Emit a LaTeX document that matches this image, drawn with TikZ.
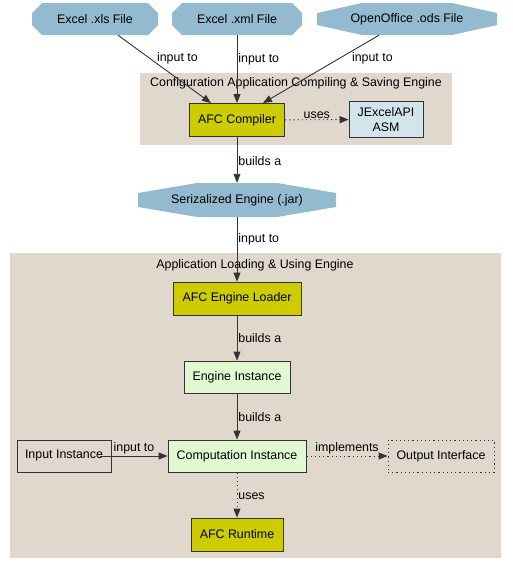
\documentclass[tikz,border=0pt]{standalone}
\usepackage{fontspec}
\setmainfont{Liberation Sans}
\usetikzlibrary{arrows.meta}

\definecolor{filecol}{HTML}{93BACF}
\definecolor{clustercol}{HTML}{E0D8CC}
\definecolor{afccol}{HTML}{CCCC00}
\definecolor{libcol}{HTML}{D3E5EC}
\definecolor{instcol}{HTML}{E0F9D0}
\definecolor{linecol}{HTML}{333333}

\begin{document}
\begin{tikzpicture}[x=1pt,y=-1pt,
	font=\fontsize{12.4}{15}\selectfont,
	box/.style={draw=linecol, line width=0.9pt, minimum height=33pt, inner sep=0pt, align=center},
	afc/.style={box, fill=afccol},
	inst/.style={box, fill=instcol},
	datafile/.style={minimum height=32pt, inner sep=0pt, path picture={\fill[filecol]
		([xshift=#1]path picture bounding box.north west) -- ([xshift=-#1]path picture bounding box.north east)
		-- ([yshift=-10pt]path picture bounding box.north east) -- ([yshift=10pt]path picture bounding box.south east)
		-- ([xshift=-#1]path picture bounding box.south east) -- ([xshift=#1]path picture bounding box.south west)
		-- ([yshift=10pt]path picture bounding box.south west) -- ([yshift=-10pt]path picture bounding box.north west) -- cycle;}},
	edge/.style={draw=linecol, line width=0.9pt, -{Triangle[length=9pt,width=7pt]}},
	usesedge/.style={edge, dash pattern=on 1.2pt off 3pt},
	lbl/.style={inner sep=1pt}]
	\useasboundingbox (0,0) rectangle (512,576);

	% clusters
	\fill[clustercol] (140,73) rectangle (452,145);
	\node (compcluster) at (296,83) {Configuration Application Compiling \& Saving Engine};
	\fill[clustercol] (10,253) rectangle (501,558);
	\node (loadcluster) at (255,265) {Application Loading \& Using Engine};

	% input files
	\node[datafile=10pt, minimum width=126pt] (xls) at (95,19) {Excel .xls File};
	\node[datafile=10pt, minimum width=130pt] (xml) at (237,19) {Excel .xml File};
	\node[datafile=45pt, minimum width=180pt] (ods) at (407,19) {OpenOffice .ods File};

	% compiling
	\node[afc, minimum width=95pt] (compiler) at (237,120) {AFC Compiler};
	\node[box, fill=libcol, minimum width=74pt, minimum height=36pt] (jxl) at (386,119.5) {JExcelAPI\\ASM};
	\node[datafile=59pt, minimum width=198pt, minimum height=34pt] (jar) at (237,200) {Serizalized Engine (.jar)};

	% loading and using
	\node[afc, minimum width=128pt] (loader) at (237,298.5) {AFC Engine Loader};
	\node[inst, minimum width=106pt, minimum height=32pt] (engine) at (237,377) {Engine Instance};
	\node[inst, minimum width=138pt, minimum height=32pt] (comp) at (237,456) {Computation Instance};
	\node[box, minimum width=94pt, minimum height=32pt] (input) at (64,456) {Input Instance};
	\node[box, minimum width=106pt, minimum height=32pt, dash pattern=on 1.2pt off 3pt] (output) at (441,456) {Output Interface};
	\node[afc, minimum width=92pt] (runtime) at (237,534.5) {AFC Runtime};

	% edges
	\draw[edge] ([xshift=23pt]xls.south) -- ([xshift=-26pt]compiler.north)
		node[lbl, pos=0.34, anchor=west, xshift=6pt] {input to};
	\draw[edge] (xml) -- (compiler)
		node[lbl, pos=0.35, anchor=west] {input to};
	\draw[edge] ([xshift=-28pt]ods.south) -- ([xshift=26pt]compiler.north)
		node[lbl, pos=0.34, anchor=west, xshift=11pt] {input to};
	\draw[usesedge] (compiler) -- (jxl)
		node[lbl, midway, above] {uses};
	\draw[edge] (compiler) -- (jar)
		node[lbl, pos=0.53, anchor=west] {builds a};
	\draw[edge] (jar) -- (loader)
		node[lbl, pos=0.35, anchor=west] {input to};
	\draw[edge] (loader) -- (engine)
		node[lbl, pos=0.5, anchor=west] {builds a};
	\draw[edge] (engine) -- (comp)
		node[lbl, pos=0.51, anchor=west] {builds a};
	\draw[edge] ([xshift=-11pt]input.east) -- (comp)
		node[lbl, midway, above] {input to};
	\draw[usesedge] (comp) -- (output)
		node[lbl, midway, above] {implements};
	\draw[usesedge] (comp) -- (runtime)
		node[lbl, pos=0.52, anchor=west] {uses};
\end{tikzpicture}
\end{document}
